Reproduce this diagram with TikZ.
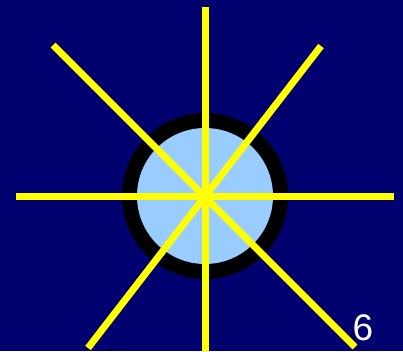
\documentclass[tikz,border=0pt]{standalone}
\usepackage{fontspec}
\setmainfont{Liberation Sans}
\usepackage{xcolor}
\definecolor{navy}{RGB}{0,0,110}
\definecolor{discblue}{RGB}{153,204,255}
\definecolor{rayyellow}{RGB}{255,255,0}

\begin{document}
\begin{tikzpicture}[x=1pt,y=-1pt,
    ray/.style={draw=rayyellow,line width=7pt}]
        \def\ro{83}
        \def\ri{68}

        % 背景
        \fill[navy] (0,0) rectangle (403,351);
        \useasboundingbox (0,0) rectangle (403,351);

        % 円盤
        \coordinate (O) at (205,196);
        \fill[black] (O) circle (\ro);
        \fill[discblue] (O) circle (\ri);

        % 光線の端点
        \coordinate (N) at (205,7);
        \coordinate (S) at (205,351);
        \coordinate (W) at (16,196);
        \coordinate (E) at (394,196);
        \coordinate (NW) at (53,45);
        \coordinate (SE) at (355,347);
        \coordinate (NE) at (321,46);
        \coordinate (SW) at (88,348);

        % 光線
        \draw[ray] (N)--(S);
        \draw[ray] (W)--(E);
        \draw[ray] (NW)--(SE);
        \draw[ray] (NE)--(SW);

        % ラベル
        \node[text=white,font=\fontsize{37}{37}\selectfont,inner sep=0pt] (num) at (363,328) {6};
      \end{tikzpicture}
\end{document}
